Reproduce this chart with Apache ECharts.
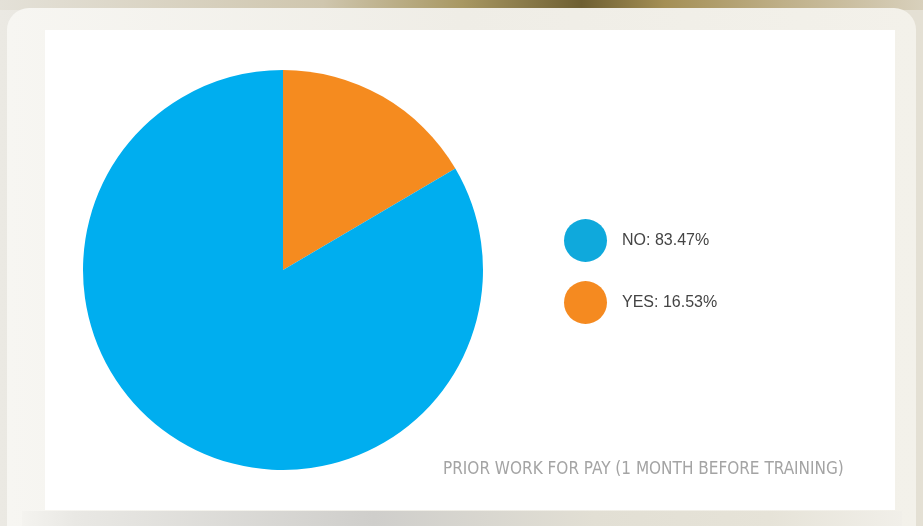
<!DOCTYPE html>
<html>
<head>
<meta charset="utf-8">
<title>Prior work for pay</title>
<script src="https://cdn.jsdelivr.net/npm/echarts@6/dist/echarts.min.js"></script>
<style>
  html, body { margin: 0; padding: 0; background: #e7e4dd; }
  #chart { width: 923px; height: 526px; }
</style>
</head>
<body>
<div id="chart"></div>
<script>
// Share of trainees who worked for pay in the month before training
const categories = ['YES', 'NO'];
const shares = [16.53, 83.47];
const legendOrder = ['NO', 'YES'];
const chartTitle = 'PRIOR WORK FOR PAY (1 MONTH BEFORE TRAINING)';

const sliceColors = { YES: '#f58b1f', NO: '#00aeef' };
const legendColors = { YES: '#f58a20', NO: '#0fa9dc' };

const pieData = categories.map((name, i) => ({
  name: name,
  value: shares[i],
  itemStyle: { color: sliceColors[name] }
}));

const chart = echarts.init(document.getElementById('chart'), null, { renderer: 'canvas' });

chart.setOption({
  animation: false,
  backgroundColor: 'transparent',
  graphic: [
    // photographic backdrop
    {
      type: 'rect', z: -10, silent: true,
      shape: { x: 0, y: 0, width: 923, height: 526 },
      style: {
        fill: new echarts.graphic.LinearGradient(0, 0, 1, 0, [
          { offset: 0, color: '#ebe9e3' },
          { offset: 0.45, color: '#d6d3cb' },
          { offset: 0.7, color: '#e2dfd4' },
          { offset: 1, color: '#e4e0d4' }
        ])
      }
    },
    {
      type: 'rect', z: -9, silent: true,
      shape: { x: 0, y: 0, width: 923, height: 10 },
      style: {
        fill: new echarts.graphic.LinearGradient(0, 0, 1, 0, [
          { offset: 0, color: '#e4e1d8' },
          { offset: 0.35, color: '#cfc6ae' },
          { offset: 0.5, color: '#a89863' },
          { offset: 0.63, color: '#6e5f32' },
          { offset: 0.72, color: '#a48f55' },
          { offset: 0.85, color: '#bfb089' },
          { offset: 1, color: '#d8d0bc' }
        ])
      }
    },
    // frosted panel
    {
      type: 'rect', z: -8, silent: true,
      shape: { x: 7, y: 8, width: 909, height: 540, r: 22 },
      style: {
        fill: new echarts.graphic.LinearGradient(0, 0, 1, 0, [
          { offset: 0, color: '#f7f6f2' },
          { offset: 0.5, color: '#efede6' },
          { offset: 1, color: '#f3f1ea' }
        ])
      }
    },
    // shaded strip under the card
    {
      type: 'rect', z: -7, silent: true,
      shape: { x: 22, y: 511, width: 880, height: 15 },
      style: {
        fill: new echarts.graphic.LinearGradient(0, 0, 1, 0, [
          { offset: 0, color: '#f4f3ef' },
          { offset: 0.06, color: '#e9e8e4' },
          { offset: 0.4, color: '#cfcecb' },
          { offset: 0.65, color: '#e2dfd4' },
          { offset: 0.85, color: '#e6e3d8' },
          { offset: 1, color: '#f1efe9' }
        ])
      }
    },
    // white card
    {
      type: 'rect', z: -6, silent: true,
      shape: { x: 45, y: 30, width: 850, height: 480 },
      style: { fill: '#ffffff' }
    }
  ],
  title: {
    text: chartTitle,
    left: 443,
    top: 461,
    padding: 0,
    textStyle: {
      color: '#a4a4a4',
      fontSize: 17,
      fontWeight: 'normal',
      fontFamily: "'Liberation Sans Narrow', 'DejaVu Sans Condensed', sans-serif"
    }
  },
  legend: {
    orient: 'vertical',
    left: 564,
    top: 219,
    padding: 0,
    itemWidth: 43,
    itemHeight: 43,
    itemGap: 19,
    icon: 'circle',
    selectedMode: false,
    data: legendOrder.map(name => ({
      name: name,
      itemStyle: { color: legendColors[name] }
    })),
    formatter: function (name) {
      const i = categories.indexOf(name);
      return name + ': ' + shares[i].toFixed(2) + '%';
    },
    textStyle: {
      color: '#444444',
      fontSize: 16,
      fontFamily: "'Liberation Sans', Arial, sans-serif",
      padding: [0, 0, 0, 10]
    }
  },
  series: [{
    type: 'pie',
    center: [283, 270],
    radius: 200,
    startAngle: 90,
    clockwise: true,
    label: { show: false },
    labelLine: { show: false },
    emphasis: { disabled: true },
    itemStyle: { borderWidth: 0 },
    data: pieData
  }]
});
</script>
</body>
</html>
